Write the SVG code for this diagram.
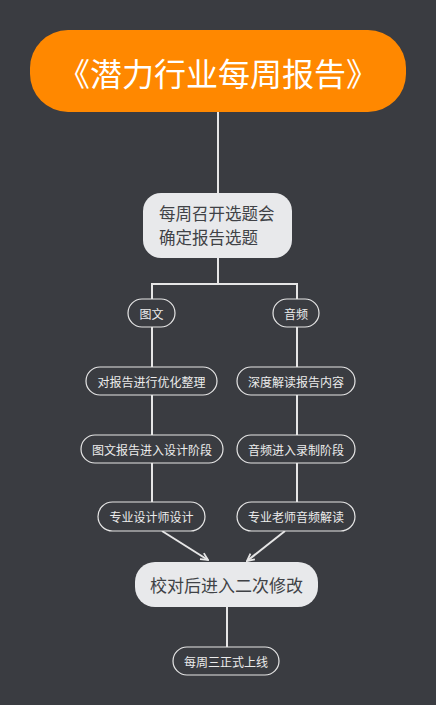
<svg xmlns="http://www.w3.org/2000/svg" width="436" height="705" viewBox="0 0 436 705">
<defs>
<style>
.bg{fill:#3a3c41}
.pill{fill:#3a3c41;stroke:#e6e6e6;stroke-width:1.2}
.pt{font-family:"Noto Sans CJK SC","Noto Sans",sans-serif;font-size:12px;fill:#ececec;text-anchor:middle;dominant-baseline:central}
.big{fill:#e8e9eb}
.bt{font-family:"Noto Sans CJK SC","Noto Sans",sans-serif;fill:#404246}
.ln{stroke:#e6e6e6;stroke-width:2;fill:none}
</style>
<marker id="ah" viewBox="0 0 10 10" refX="9" refY="5" markerWidth="9" markerHeight="9" orient="auto" markerUnits="userSpaceOnUse">
<polyline points="1,1 9,5 1,9" fill="none" stroke="#e6e6e6" stroke-width="2"/>
</marker>
</defs>
<rect class="bg" x="0" y="0" width="436" height="705"/>
<g id="connectors">
<line class="ln" x1="218" y1="112" x2="218" y2="193"/>
<polyline class="ln" points="218,258 218,284"/>
<polyline class="ln" points="152,299 152,284 297,284 297,299"/>
<line class="ln" x1="152" y1="327" x2="152" y2="367"/>
<line class="ln" x1="152" y1="395" x2="152" y2="435"/>
<line class="ln" x1="152" y1="463" x2="152" y2="502"/>
<line class="ln" x1="297" y1="327" x2="297" y2="367"/>
<line class="ln" x1="297" y1="395" x2="297" y2="435"/>
<line class="ln" x1="297" y1="463" x2="297" y2="502"/>
<line class="ln" x1="162" y1="531" x2="208" y2="560" marker-end="url(#ah)"/>
<line class="ln" x1="285" y1="531" x2="247" y2="561" marker-end="url(#ah)"/>
<line class="ln" x1="227" y1="607" x2="227" y2="647"/>
</g>
<g id="title">
<rect x="30" y="30" width="376" height="82" rx="38" fill="#ff8800"/>
<text x="218" y="72" font-family="Noto Sans CJK SC,Noto Sans,sans-serif" font-size="32" fill="#ffffff" text-anchor="middle" dominant-baseline="central">《潜力行业每周报告》</text>
</g>
<g id="n-meeting">
<rect class="big" x="143" y="193" width="149" height="65" rx="18"/>
<text class="bt" font-size="16.5" x="159" y="213" dominant-baseline="central">每周召开选题会</text>
<text class="bt" font-size="16.5" x="159" y="237" dominant-baseline="central">确定报告选题</text>
</g>
<g id="n-tuwen">
<rect class="pill" x="128" y="299" width="47" height="28" rx="14"/>
<text class="pt" x="151.5" y="313">图文</text>
</g>
<g id="n-yinpin">
<rect class="pill" x="273" y="299" width="46" height="28" rx="14"/>
<text class="pt" x="296" y="313">音频</text>
</g>
<g id="n-l1">
<rect class="pill" x="86" y="367" width="131" height="28" rx="14"/>
<text class="pt" x="151.5" y="381">对报告进行优化整理</text>
</g>
<g id="n-r1">
<rect class="pill" x="237" y="367" width="118" height="28" rx="14"/>
<text class="pt" x="296" y="381">深度解读报告内容</text>
</g>
<g id="n-l2">
<rect class="pill" x="81" y="435" width="142" height="28" rx="14"/>
<text class="pt" x="152" y="449">图文报告进入设计阶段</text>
</g>
<g id="n-r2">
<rect class="pill" x="237" y="435" width="118" height="28" rx="14"/>
<text class="pt" x="296" y="449">音频进入录制阶段</text>
</g>
<g id="n-l3">
<rect class="pill" x="98" y="502" width="107" height="29" rx="14.5"/>
<text class="pt" x="151.5" y="516.5">专业设计师设计</text>
</g>
<g id="n-r3">
<rect class="pill" x="237" y="502" width="118" height="29" rx="14.5"/>
<text class="pt" x="296" y="516.5">专业老师音频解读</text>
</g>
<g id="n-revise">
<rect class="big" x="135" y="562" width="183" height="45" rx="20"/>
<text class="bt" font-size="17" x="226.5" y="584.5" text-anchor="middle" dominant-baseline="central">校对后进入二次修改</text>
</g>
<g id="n-online">
<rect class="pill" x="173" y="647" width="106" height="28" rx="14"/>
<text class="pt" x="226" y="661">每周三正式上线</text>
</g>
</svg>
